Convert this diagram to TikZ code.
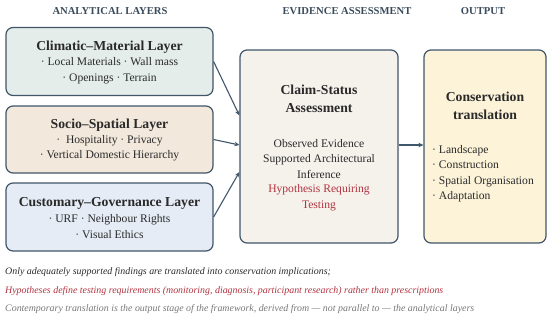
\documentclass[tikz,border=0pt]{standalone}
\usepackage{fontspec}
\setmainfont{Liberation Serif}
\usetikzlibrary{arrows.meta,calc}
\definecolor{bordc}{HTML}{40566A}
\definecolor{headc}{HTML}{3A4B5C}
\definecolor{fillA}{HTML}{E4EDEA}
\definecolor{fillB}{HTML}{F2E8DC}
\definecolor{fillC}{HTML}{E5ECF5}
\definecolor{fillM}{HTML}{F5F2EC}
\definecolor{fillO}{HTML}{FCF3D9}
\definecolor{redc}{HTML}{B0323F}
\definecolor{txtc}{HTML}{2A2A2A}
\definecolor{grayc}{HTML}{777777}
\tikzset{
  layerbox/.style={draw=bordc, line width=1.2pt, rounded corners=7pt},
  hdr/.style={font=\fontsize{10.6}{12}\selectfont\bfseries, text=headc},
  ttl/.style={font=\fontsize{13.7}{18}\selectfont\bfseries, text=txtc, align=center, inner sep=0pt},
  bdy/.style={font=\fontsize{11.6}{15.5}\selectfont, text=txtc, align=center, inner sep=0pt},
  foot/.style={font=\fontsize{9.9}{11}\selectfont\itshape, anchor=west, inner sep=0pt},
  arr/.style={draw=bordc, line width=1.1pt, -{Stealth[length=5pt,width=4.5pt]}}
}
\begin{document}
\begin{tikzpicture}[x=1pt,y=-1pt]
\useasboundingbox (0,0) rectangle (550,319);
% headers
\node[hdr] (h1) at (110,11) {ANALYTICAL LAYERS};
\node[hdr] (h2) at (347,11) {EVIDENCE ASSESSMENT};
\node[hdr] (h3) at (483,11) {OUTPUT};
% layer boxes
\node[layerbox, fill=fillA, minimum width=207pt, minimum height=68pt] (b1) at (109.5,61.5) {};
\node[layerbox, fill=fillB, minimum width=207pt, minimum height=67pt] (b2) at (109.5,139.5) {};
\node[layerbox, fill=fillC, minimum width=207pt, minimum height=68pt] (b3) at (109.5,217) {};
\node[layerbox, fill=fillM, minimum width=158pt, minimum height=193pt] (mid) at (319,146.5) {};
\node[layerbox, fill=fillO, minimum width=122pt, minimum height=193pt] (out) at (485,146.5) {};
% box texts
\node[ttl] (t1) at (109.5,47) {Climatic–Material Layer};
\node[bdy] (d1) at (109.5,70.5) {· Local Materials · Wall mass\\ · Openings · Terrain};
\node[ttl] (t2) at (109.5,125) {Socio–Spatial Layer};
\node[bdy] (d2) at (109.5,148) {·\ \ Hospitality · Privacy\\ · Vertical Domestic Hierarchy};
\node[ttl] (t3) at (109.5,203) {Customary–Governance Layer};
\node[bdy] (d3) at (109.5,226.5) {· URF · Neighbour Rights\\ · Visual Ethics};
\node[ttl] (tm) at (319,99) {Claim-Status\\Assessment};
\node[bdy] (dm) at (319,159) {Observed Evidence\\Supported Architectural\\Inference};
\node[bdy, text=redc] (rm) at (319,197.5) {Hypothesis Requiring\\Testing};
\node[ttl] (to) at (485,106) {Conservation\\translation};
\node[bdy, align=left, anchor=west] (do) at (432,173.5) {· Landscape\\ · Construction\\ · Spatial Organisation\\ · Adaptation};
% connectors
\draw[arr] (b1.east) -- ($(mid.west)+(0,-31)$);
\draw[arr] (b2.east) -- ($(mid.west)+(0,-1.5)$);
\draw[arr] (b3.east) -- ($(mid.west)+(0,25.5)$);
\draw[arr] ($(mid.east)+(0,-1.5)$) -- ($(out.west)+(0,-1.5)$);
% footer
\node[foot, text=txtc] (f1) at (5,272) {Only adequately supported findings are translated into conservation implications;};
\node[foot, text=redc] (f2) at (5,291) {Hypotheses define testing requirements (monitoring, diagnosis, participant research) rather than prescriptions};
\node[foot, text=grayc] (f3) at (5,309) {Contemporary translation is the output stage of the framework, derived from — not parallel to — the analytical layers};
\end{tikzpicture}
\end{document}
